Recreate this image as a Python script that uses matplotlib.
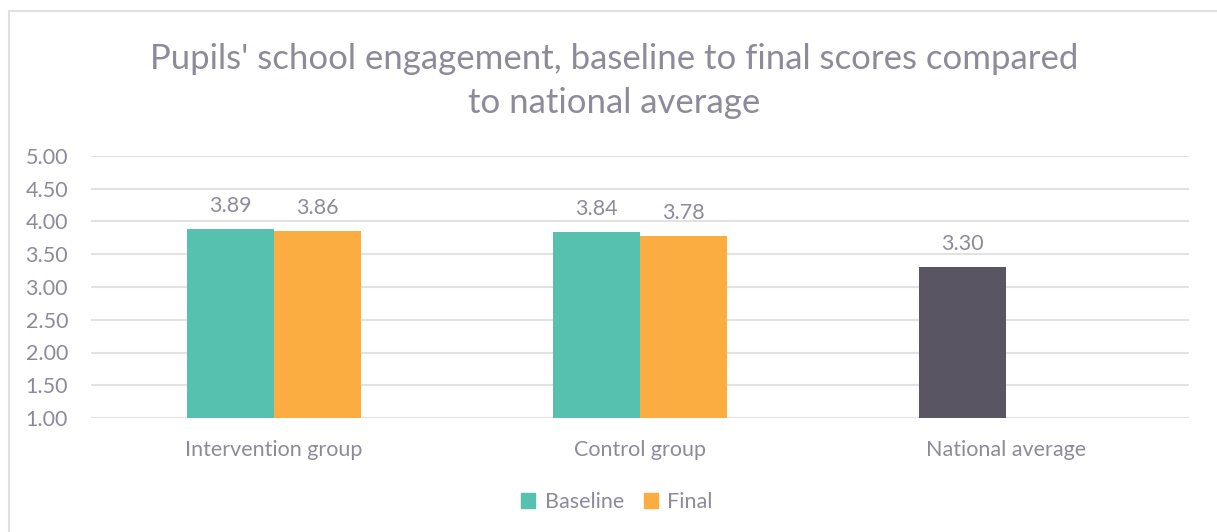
import numpy as np
import matplotlib.pyplot as plt
from matplotlib.patches import Rectangle, Patch

# values
categories = ['Intervention group', 'Control group', 'National average']
baseline = [3.89, 3.84, 3.30]
final = [3.86, 3.78, None]
yticks = [1.00, 1.50, 2.00, 2.50, 3.00, 3.50, 4.00, 4.50, 5.00]

teal = '#56C1AE'
orange = '#FBAD41'
dark = '#5A5563'
txt = '#8D8A99'
grid_c = '#E2E2E2'

plt.rcParams['font.family'] = ['Lato', 'DejaVu Sans']

fig = plt.figure(figsize=(12.17, 5.32), dpi=100)
ax = fig.add_axes([91 / 1217, 1 - 418 / 532, 1098 / 1217, 262 / 532])

x = np.arange(len(categories))
w = 0.2377
fs = 15.5
off = 0.2
base_colors = [teal, teal, dark]
for i in range(len(categories)):
    ax.bar(x[i] - w / 2, baseline[i] - 1, w, bottom=1, color=base_colors[i], zorder=3)
    ax.text(x[i] - w / 2, baseline[i] + off, f'{baseline[i]:.2f}', ha='center', va='bottom',
            fontsize=fs, color=txt)
    if final[i] is not None:
        ax.bar(x[i] + w / 2, final[i] - 1, w, bottom=1, color=orange, zorder=3)
        ax.text(x[i] + w / 2, final[i] + off, f'{final[i]:.2f}', ha='center', va='bottom',
                fontsize=fs, color=txt)

ax.set_xlim(-0.5, len(categories) - 0.5)
ax.set_ylim(1, 5)
ax.set_yticks(yticks)
ax.set_yticklabels([f'{v:.2f}' for v in yticks])
ax.set_xticks(x)
ax.set_xticklabels(categories)
ax.tick_params(axis='both', length=0, labelsize=fs, colors=txt)
ax.tick_params(axis='x', pad=16)
ax.tick_params(axis='y', pad=16.5)
ax.yaxis.grid(True, color=grid_c, lw=1.5, zorder=0)
for s in ax.spines.values():
    s.set_visible(False)

fig.text(614 / 1217, 1 - 81 / 532,
         "Pupils' school engagement, baseline to final scores compared\nto national average",
         ha='center', va='center', fontsize=25, color=txt, linespacing=1.46)

leg = fig.legend(handles=[Patch(color=teal, label='Baseline'), Patch(color=orange, label='Final')],
                 loc='center', bbox_to_anchor=(617 / 1217, 1 - 502 / 532), ncol=2, frameon=False,
                 fontsize=fs, handlelength=0.65, handleheight=0.65, columnspacing=0.9, handletextpad=0.45)
for t in leg.get_texts():
    t.set_color(txt)

# chart border (only left and top visible in the crop)
fig.patches.append(Rectangle((8.5 / 1217, -0.1), 1.2, 1 - 11 / 532 + 0.1, transform=fig.transFigure,
                             fill=False, edgecolor='#E0E0E0', lw=1.5))

fig.savefig('out.png', dpi=100)
